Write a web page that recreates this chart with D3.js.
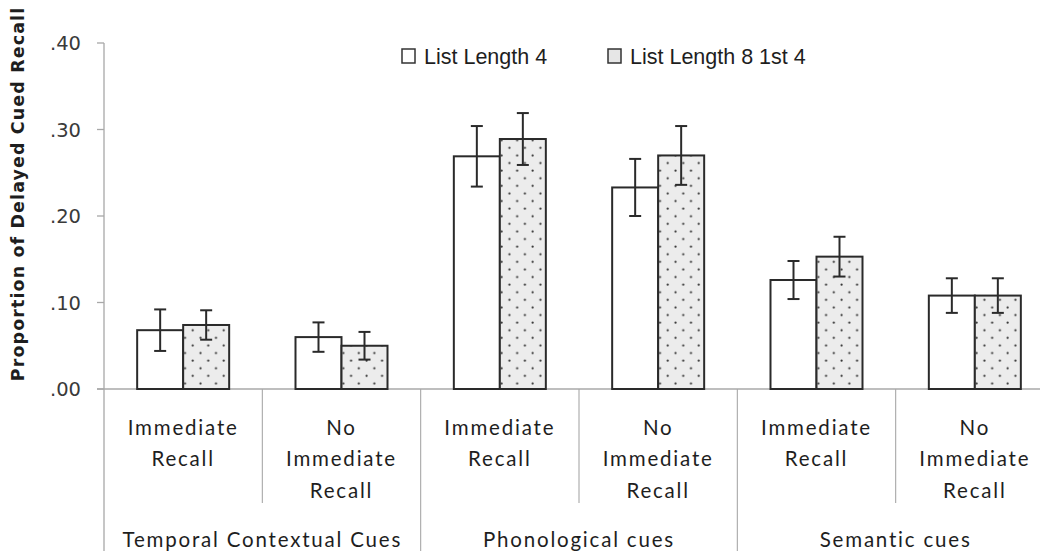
<!DOCTYPE html>
<html>
<head>
<meta charset="utf-8">
<script src="https://cdn.jsdelivr.net/npm/d3@7"></script>
<style>
  html, body { margin: 0; padding: 0; background: #fff; }
  svg { display: block; }
</style>
</head>
<body>
<svg id="chart" width="1040" height="551"></svg>
<script>
// ---- data ----
const groups = ["Temporal Contextual Cues", "Phonological cues", "Semantic cues"];
const conditions = ["Immediate Recall", "No Immediate Recall"];
const conditionLines = [["Immediate", "Recall"], ["No", "Immediate", "Recall"]];
const series = ["List Length 4", "List Length 8 1st 4"];
const listLength4 = [0.068, 0.060, 0.269, 0.233, 0.126, 0.108];
const listLength4Err = [0.024, 0.017, 0.035, 0.033, 0.022, 0.020];
const listLength8 = [0.074, 0.050, 0.289, 0.270, 0.153, 0.108];
const listLength8Err = [0.017, 0.016, 0.030, 0.034, 0.023, 0.020];
const yTicks = [0, 0.1, 0.2, 0.3, 0.4];
const yTickLabels = [".00", ".10", ".20", ".30", ".40"];

// ---- build ----
const svg = d3.select("#chart");
const plotLeft = 104, plotRight = 1054, plotTop = 43, zeroY = 389;

const cells = [];
groups.forEach((g, gi) => conditions.forEach((c, ci) => cells.push({ g, gi, c, ci, key: g + "|" + c })));
const rows = cells.map((d, i) => ({
  ...d,
  vals: [
    { s: series[0], v: listLength4[i], e: listLength4Err[i] },
    { s: series[1], v: listLength8[i], e: listLength8Err[i] }
  ]
}));

const x0 = d3.scaleBand().domain(cells.map(d => d.key)).range([plotLeft, plotRight]);
const xg = d3.scaleBand().domain(groups).range([plotLeft, plotRight]);
const bw = 46;
const x1 = d3.scaleBand().domain(series)
  .range([(x0.bandwidth() - 2 * bw) / 2, (x0.bandwidth() + 2 * bw) / 2]);
const y = d3.scaleLinear().domain([0, 0.4]).range([zeroY, plotTop]);

// pattern
const defs = svg.append("defs");
const pat = defs.append("pattern").attr("id", "dots").attr("patternUnits", "userSpaceOnUse")
  .attr("width", 15.5).attr("height", 15.2);
pat.append("rect").attr("width", 15.5).attr("height", 15.2).attr("fill", "#ececec");
pat.append("circle").attr("cx", 3.5).attr("cy", 3.5).attr("r", 1.1).attr("fill", "#333");
pat.append("circle").attr("cx", 11.25).attr("cy", 11.1).attr("r", 1.1).attr("fill", "#333");

const axisColor = "#a8a8a8";

// y axis line (extends to bottom)
svg.append("line").attr("x1", plotLeft).attr("x2", plotLeft).attr("y1", y(0.4)).attr("y2", 551)
  .attr("stroke", axisColor).attr("stroke-width", 1.3);
// ticks
svg.selectAll(".ytick").data(yTicks).join("line")
  .attr("x1", plotLeft - 7).attr("x2", plotLeft).attr("y1", d => y(d)).attr("y2", d => y(d))
  .attr("stroke", axisColor).attr("stroke-width", 1.3);
svg.selectAll(".ylab").data(yTicks).join("text")
  .attr("x", 81).attr("y", d => y(d)).attr("dy", "0.36em")
  .attr("text-anchor", "end")
  .attr("font-family", "DejaVu Sans, sans-serif").attr("font-size", 19.5)
  .attr("fill", "#3a3a3a")
  .text((d, i) => yTickLabels[i]);

// baseline
svg.append("line").attr("x1", plotLeft - 7).attr("x2", 1040).attr("y1", zeroY).attr("y2", zeroY)
  .attr("stroke", axisColor).attr("stroke-width", 1.3);

// separators
cells.forEach((d, i) => {
  if (i === 0) return;
  const xx = x0(d.key);
  const isGroup = d.ci === 0;
  svg.append("line").attr("x1", xx).attr("x2", xx).attr("y1", zeroY).attr("y2", isGroup ? 551 : 503)
    .attr("stroke", axisColor).attr("stroke-width", 1.1);
});

// bars
const cellG = svg.selectAll(".cell").data(rows).join("g")
  .attr("transform", d => `translate(${x0(d.key)},0)`);
cellG.selectAll("rect").data(d => d.vals).join("rect")
  .attr("x", d => x1(d.s)).attr("width", x1.bandwidth())
  .attr("y", d => y(d.v)).attr("height", d => y(0) - y(d.v))
  .attr("fill", (d, i) => i === 0 ? "#fff" : "url(#dots)")
  .attr("stroke", "#2a2a2a").attr("stroke-width", 2);

// error bars
const eb = cellG.selectAll(".eb").data(d => d.vals).join("g")
  .attr("transform", d => `translate(${x1(d.s) + x1.bandwidth() / 2},0)`);
eb.append("line").attr("x1", 0).attr("x2", 0).attr("y1", d => y(d.v + d.e)).attr("y2", d => y(d.v - d.e))
  .attr("stroke", "#2a2a2a").attr("stroke-width", 2);
eb.append("line").attr("x1", -6).attr("x2", 6).attr("y1", d => y(d.v + d.e)).attr("y2", d => y(d.v + d.e))
  .attr("stroke", "#2a2a2a").attr("stroke-width", 2);
eb.append("line").attr("x1", -6).attr("x2", 6).attr("y1", d => y(d.v - d.e)).attr("y2", d => y(d.v - d.e))
  .attr("stroke", "#2a2a2a").attr("stroke-width", 2);

// condition labels
const labFont = "Lato, 'Open Sans', sans-serif";
cellG.each(function (d) {
  const t = d3.select(this).append("text")
    .attr("text-anchor", "middle")
    .attr("font-family", labFont).attr("font-size", 20.5)
    .attr("letter-spacing", 1.8)
    .attr("fill", "#1e1e1e");
  conditionLines[d.ci].forEach((line, li) => {
    t.append("tspan").attr("x", x0.bandwidth() / 2).attr("y", 435 + li * 31.3).text(line);
  });
});

// group labels
svg.selectAll(".glab").data(groups).join("text")
  .attr("x", d => xg(d) + xg.bandwidth() / 2).attr("y", 547)
  .attr("text-anchor", "middle")
  .attr("font-family", labFont).attr("font-size", 20.5)
  .attr("letter-spacing", 1.8)
  .attr("fill", "#1e1e1e")
  .text(d => d);

// y title
svg.append("text")
  .attr("transform", `translate(24,${194}) rotate(-90)`)
  .attr("text-anchor", "middle")
  .attr("font-family", "DejaVu Sans, sans-serif").attr("font-weight", "bold")
  .attr("font-size", 17.5).attr("letter-spacing", 1.1)
  .attr("fill", "#1e1e1e")
  .text("Proportion of Delayed Cued Recall");

// legend
const legX = [402, 608];
const leg = svg.selectAll(".leg").data(series).join("g")
  .attr("transform", (d, i) => `translate(${legX[i]},49)`);
leg.append("rect").attr("width", 13).attr("height", 14)
  .attr("fill", (d, i) => i === 0 ? "#fff" : "#e6e6e6")
  .attr("stroke", "#333").attr("stroke-width", 1.5);
leg.append("text").attr("x", 22).attr("y", 14.5)
  .attr("font-family", "Liberation Sans, Arial, sans-serif").attr("font-size", 21.5)
  .attr("fill", "#1e1e1e")
  .text(d => d);
</script>
</body>
</html>
